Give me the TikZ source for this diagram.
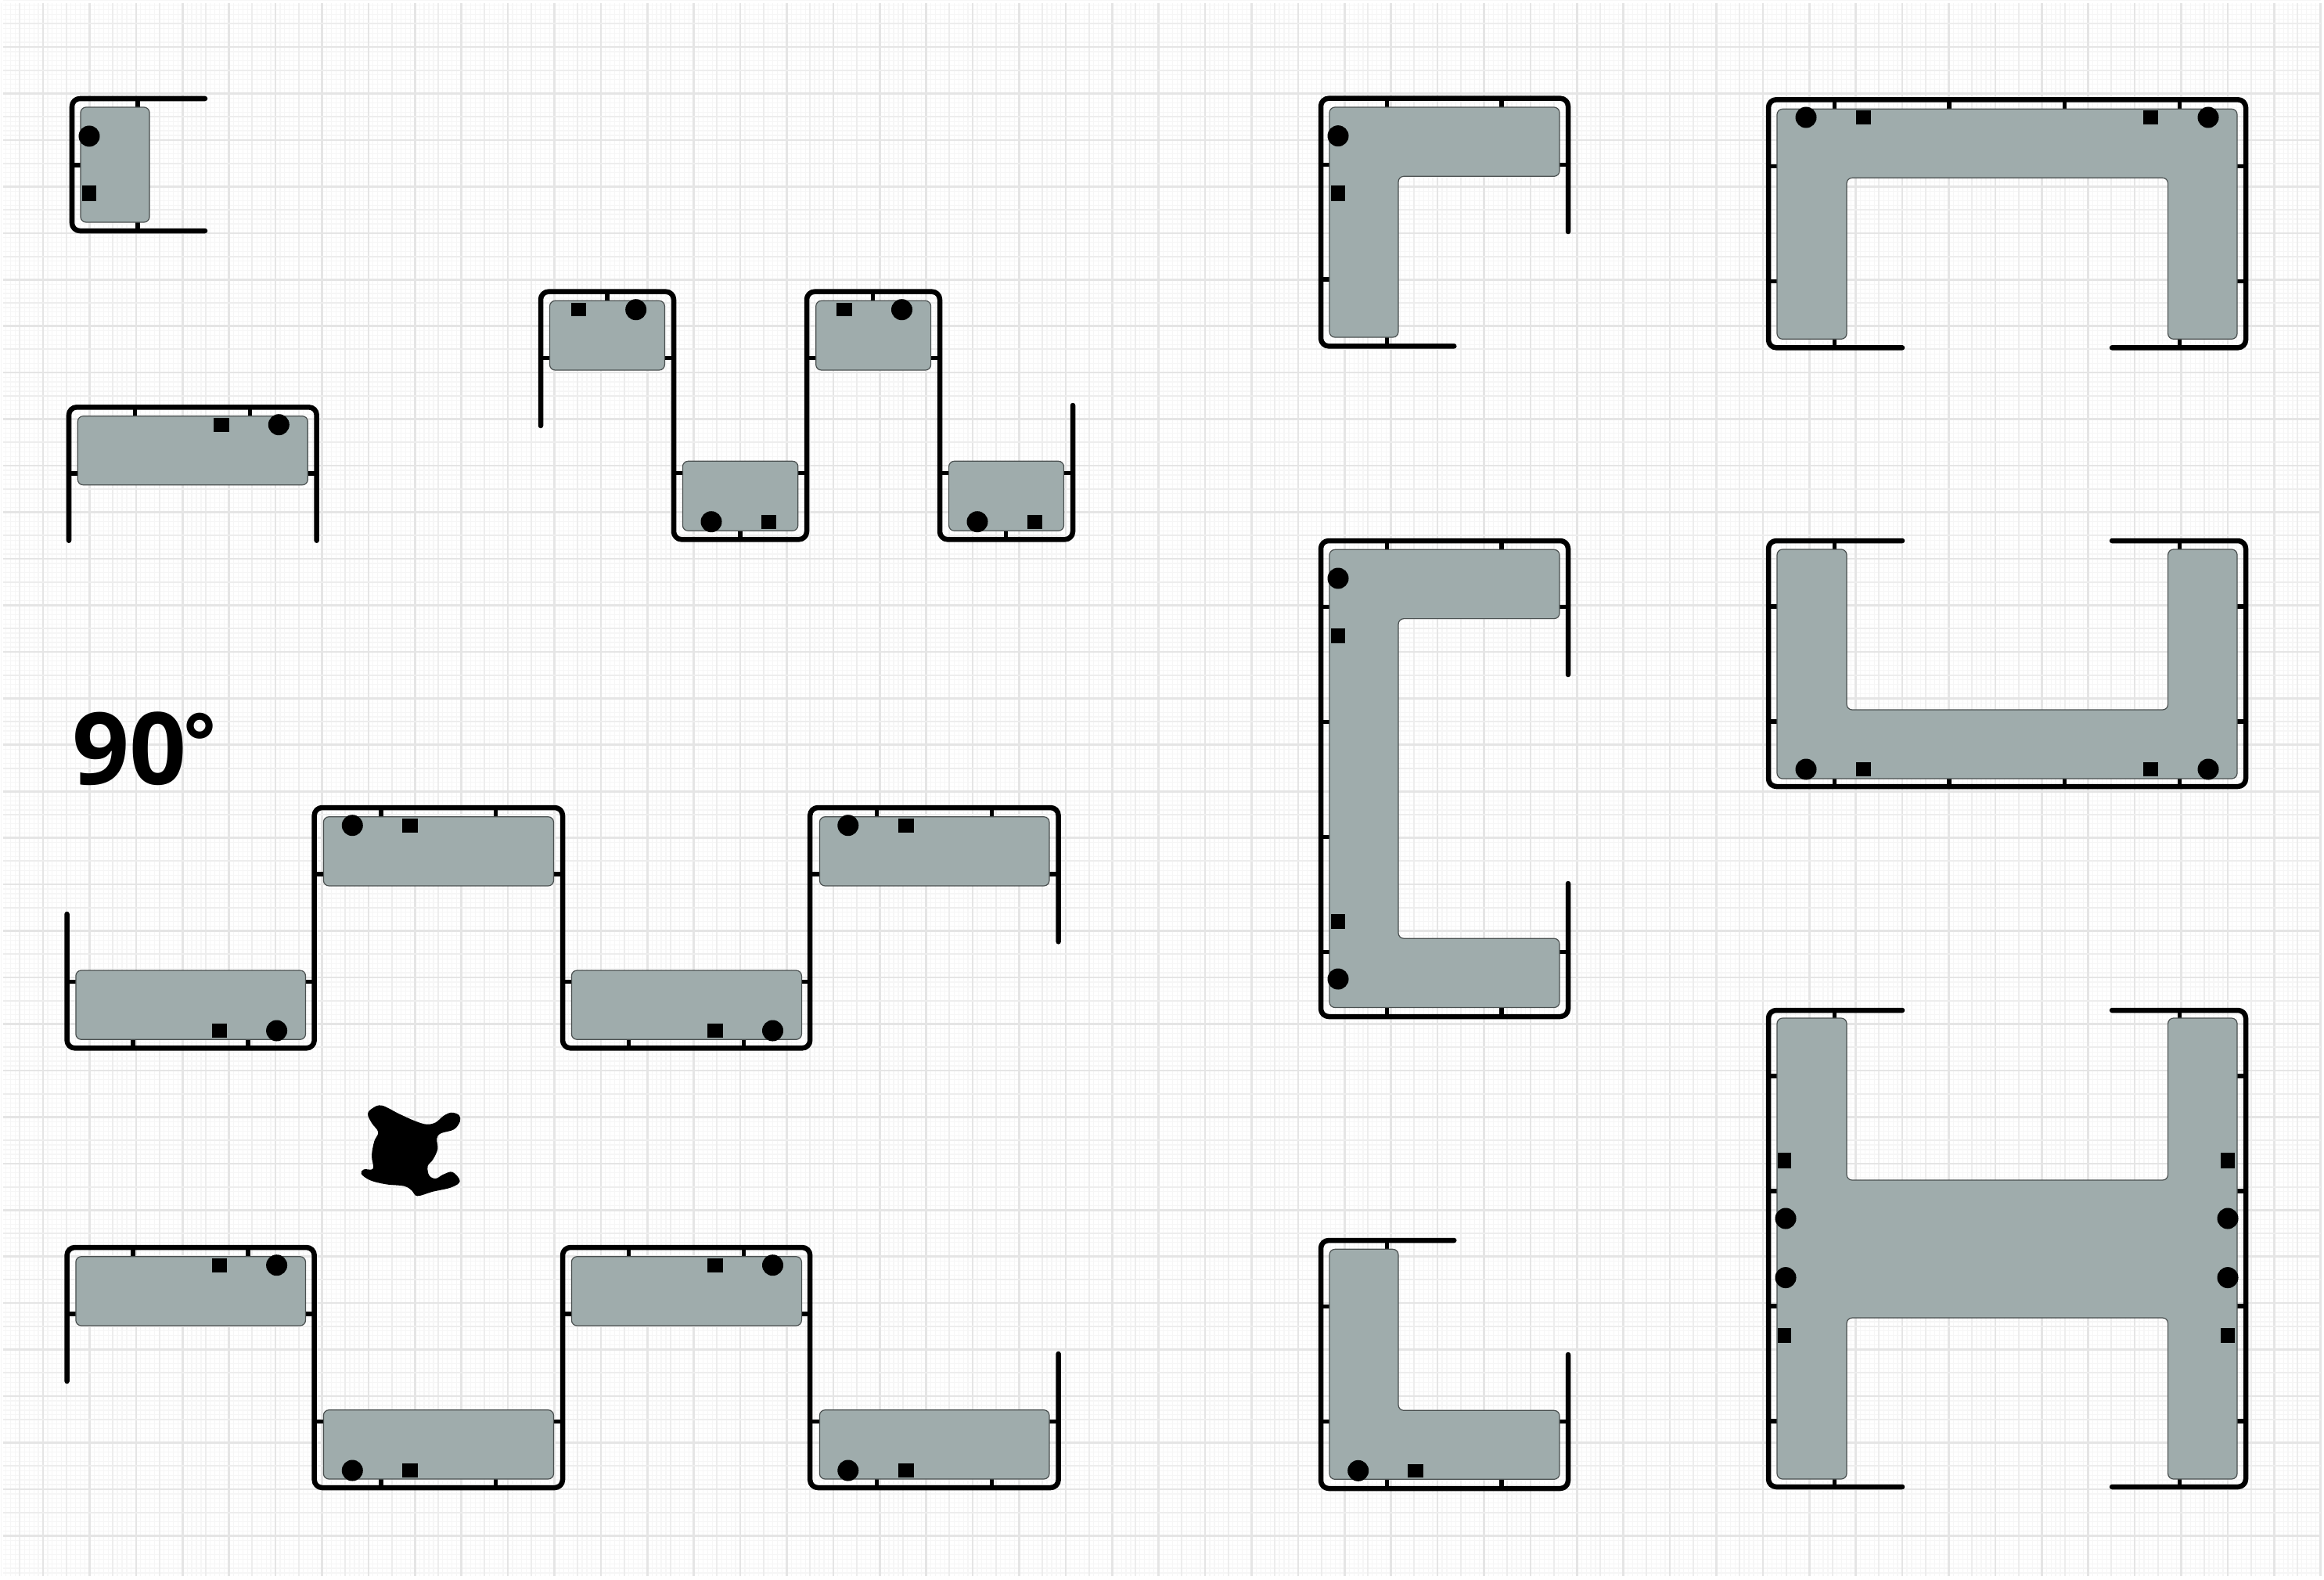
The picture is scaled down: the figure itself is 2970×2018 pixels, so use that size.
\documentclass[tikz,border=0pt]{standalone}
\usepackage{fontspec}
\setsansfont{Open Sans}
\definecolor{concretegray}{HTML}{9FACAC}
\definecolor{concreteline}{HTML}{4A5050}
\tikzset{
    rebar/.style={line width=0.065cm, line cap=round, line join=round, rounded corners=0.1cm},
    rebartick/.style={line width=0.055cm, shorten <=0.012cm},
    concrete/.style={fill=concretegray, draw=concreteline, line width=0.012cm, rounded corners=0.07cm},
    gridfine/.style={draw=black!3.5, line width=0.012cm},
    gridmid/.style={draw=black!7, line width=0.02cm},
    gridmajor/.style={draw=black!10, line width=0.026cm}
}
\begin{document}
\begin{tikzpicture}[x=0.01cm, y=-0.01cm]
    \useasboundingbox (0,0) rectangle (2970,2018);
    % Graph paper
    \foreach \k in {0,...,499}
        \draw[gridfine] (1.54+\k*5.94,4) -- (1.54+\k*5.94,2014);
    \foreach \k in {0,...,338}
        \draw[gridfine] (4,0.55+\k*5.945) -- (2966,0.55+\k*5.945);
    \foreach \k in {0,...,49} {
        \draw[gridmid] (25.3+\k*59.4,4) -- (25.3+\k*59.4,2014);
        \draw[gridmajor] (55+\k*59.4,4) -- (55+\k*59.4,2014);
    }
    \foreach \k in {0,...,32} {
        \draw[gridmid] (4,30.3+\k*59.45) -- (2966,30.3+\k*59.45);
        \draw[gridmajor] (4,60+\k*59.45) -- (2966,60+\k*59.45);
    }
    % Title
    \node[anchor=base west, inner sep=0pt, font=\sffamily\bfseries\fontsize{36.4pt}{36.4pt}\selectfont] (anglelabel) at (92,1002) {90\kern-0.03em\raisebox{5.6pt}{\fontsize{28pt}{28pt}\selectfont °}};
    % Patch
    \fill plot[smooth cycle, tension=0.6] coordinates {(488.3,1412.7) (510,1423.3) (530,1432.3) (545,1436.7) (556.7,1434.3) (566.7,1426) (576.7,1421.7) (586.7,1425) (587.7,1433.3) (580,1443.3) (563.3,1448.3) (558.3,1455) (559.3,1468.3) (553.3,1481.7) (546.7,1490) (548.3,1501.7) (556.7,1506) (566.7,1500.7) (578.3,1497.7) (587.7,1509.3) (576.7,1517.3) (553.3,1522.7) (533.3,1528.3) (526.7,1521.7) (516.7,1515.7) (493.3,1513.3) (473.3,1508.3) (461.7,1500) (465,1494.3) (476.7,1493.3) (475,1476.7) (478.3,1458.3) (483.3,1446.7) (475,1435) (470,1423.3) (476.7,1415.7)};
    % Stirrups
    \draw[rebar] (262,126) -- (92,126) -- (92,295) -- (262,295);
    \draw[rebar] (88,690.7) -- (88,520.3) -- (404.7,520.3) -- (404.7,690.7);
    \draw[rebar] (691,544) -- (691,372.7) -- (861,372.7) -- (861,689.3) -- (1031,689.3) -- (1031,372.7) -- (1201,372.7) -- (1201,689.3) -- (1371,689.3) -- (1371,518);
    \draw[rebar] (85.6,1168) -- (85.6,1339.3) -- (401.7,1339.3) -- (401.7,1032) -- (719,1032) -- (719,1339.3) -- (1035.2,1339.3) -- (1035.2,1032) -- (1352.6,1032) -- (1352.6,1203.3);
    \draw[rebar] (85.6,1765) -- (85.6,1594) -- (401.7,1594) -- (401.7,1901) -- (719,1901) -- (719,1594) -- (1035.2,1594) -- (1035.2,1901) -- (1352.6,1901) -- (1352.6,1730);
    \draw[rebar] (2004,296) -- (2004,125.7) -- (1688,125.7) -- (1688,442.3) -- (1858.3,442.3);
    \draw[rebar] (2004,862) -- (2004,691) -- (1688,691) -- (1688,1299) -- (2004,1299) -- (2004,1129);
    \draw[rebar] (1858.3,1585) -- (1688,1585) -- (1688,1902) -- (2004,1902) -- (2004,1731);
    \draw[rebar] (2431,444.3) -- (2260,444.3) -- (2260,127.3) -- (2870,127.3) -- (2870,444.3) -- (2699,444.3);
    \draw[rebar] (2431,691) -- (2260,691) -- (2260,1005) -- (2870,1005) -- (2870,691) -- (2699,691);
    \draw[rebar] (2431,1291) -- (2260,1291) -- (2260,1900) -- (2431,1900);
    \draw[rebar] (2699,1291) -- (2870,1291) -- (2870,1900) -- (2699,1900);
    % Ties, across the stirrup
    \foreach \x/\a/\b in {176/122/137, 176/299/284, 172.7/516.3/531.7, 319.3/516.3/531.7, 776/368.7/384.3, 1115.7/368.7/384.3, 945.8/693.3/678.3, 1285.6/693.3/678.3, 1772.3/121.7/137, 1919/121.7/137, 1772.3/446.3/431, 1772.3/687/702.3, 1919/687/702.3, 1772.3/1303/1287.5, 1919/1303/1287.5, 1772.3/1581/1596.3, 1772.3/1906/1890.3, 1919/1906/1890.3, 2344.3/448.3/433.3, 2785.4/448.3/433.3, 2344.3/687/702, 2785.4/687/702, 2344.3/1287/1301, 2785.4/1287/1301, 2344.3/1904/1890, 2785.4/1904/1890}
        \draw[rebartick] (\x,\a) -- (\x,\b);
    \foreach \x in {487,633.7,1120.6,1267.6} {
        \draw[rebartick] (\x,1028) -- (\x,1043.7);
        \draw[rebartick] (\x,1905) -- (\x,1890);
    }
    \foreach \x in {170.2,317.2,803.6,950.6} {
        \draw[rebartick] (\x,1343.3) -- (\x,1328.3);
        \draw[rebartick] (\x,1590) -- (\x,1605.7);
    }
    \foreach \x in {2344.3,2491.2,2638.5,2785.4} {
        \draw[rebartick] (\x,123.3) -- (\x,139.3);
        \draw[rebartick] (\x,1009) -- (\x,995);
    }
    \foreach \y/\a/\b in {211/88/103, 605/84/99.3, 605/408.7/393.3, 457.7/687/702.5, 457.7/865/849.4, 457.7/1027/1042.7, 457.7/1205/1189.6, 604.3/857/872.4, 604.3/1035/1019.8, 604.3/1197/1212.6, 604.3/1375/1359.5, 210.3/1684/1699, 210.3/2008/1993, 357/1684/1699, 775.6/2008/1993, 1216.6/2008/1993, 1669.7/1684/1699, 1816.7/1684/1699, 1816.7/2008/1993}
        \draw[rebartick] (\a,\y) -- (\b,\y);
    \foreach \y in {1254.7,1679} \foreach \a/\b in {81.6/96.9, 405.7/390.5, 715/730.4, 1039.2/1024.4}
        \draw[rebartick] (\a,\y) -- (\b,\y);
    \foreach \y in {1117,1816.4} \foreach \a/\b in {397.7/413.4, 723/707.5, 1031.2/1047.4, 1356.6/1341}
        \draw[rebartick] (\a,\y) -- (\b,\y);
    \foreach \y in {775.6,922.6,1069.6,1216.6}
        \draw[rebartick] (1684,\y) -- (1699,\y);
    \foreach \y in {212.3,359.7,775,922,1375,1522,1669,1816} {
        \draw[rebartick] (2256,\y) -- (2271,\y);
        \draw[rebartick] (2874,\y) -- (2859,\y);
    }
    % Concrete bars
    \foreach \xa/\ya/\xb/\yb in {103/137/191/284, 99.3/531.7/393.3/619.7, 702.5/384.3/849.4/473, 872.4/589.3/1019.8/678.3, 1042.7/384.3/1189.6/473, 1212.6/589.3/1359.5/678.3, 96.9/1240/390.5/1328.3, 413.4/1043.7/707.5/1132, 730.4/1240/1024.4/1328.3, 1047.4/1043.7/1341/1132, 96.9/1605.7/390.5/1694, 413.4/1801.7/707.5/1890, 730.4/1605.7/1024.4/1694, 1047.4/1801.7/1341/1890}
        \draw[concrete] (\xa,\ya) rectangle (\xb,\yb);
    % Concrete walls
    \draw[concrete] (1699,137) -- (1993,137) -- (1993,225.3) -- (1787,225.3) -- (1787,431) -- (1699,431) -- cycle;
    \draw[concrete] (1699,702.3) -- (1993,702.3) -- (1993,790.6) -- (1787,790.6) -- (1787,1199.2) -- (1993,1199.2) -- (1993,1287.5) -- (1699,1287.5) -- cycle;
    \draw[concrete] (1699,1596.3) -- (1787,1596.3) -- (1787,1802.3) -- (1993,1802.3) -- (1993,1890.3) -- (1699,1890.3) -- cycle;
    \draw[concrete] (2271,139.3) -- (2859,139.3) -- (2859,433.3) -- (2770.6,433.3) -- (2770.6,227.3) -- (2360,227.3) -- (2360,433.3) -- (2271,433.3) -- cycle;
    \draw[concrete] (2271,702) -- (2360,702) -- (2360,907) -- (2770.6,907) -- (2770.6,702) -- (2859,702) -- (2859,995) -- (2271,995) -- cycle;
    \draw[concrete] (2271,1301) -- (2360,1301) -- (2360,1508) -- (2770.6,1508) -- (2770.6,1301) -- (2859,1301) -- (2859,1890) -- (2770.6,1890) -- (2770.6,1684) -- (2360,1684) -- (2360,1890) -- (2271,1890) -- cycle;
    % Round bars
    \foreach \x/\y in {114/174, 356.3/542.7, 812.7/395.7, 909/666.7, 1152.5/395.7, 1249/666.7, 353.6/1317, 450.3/1054.7, 987.5/1317, 1083.8/1054.7, 353.6/1616.7, 450.3/1879, 987.5/1616.7, 1083.8/1879, 1710/173.7, 1710/739, 1710/1251, 1735.7/1879.3, 2308/150, 2822/150, 2308/983, 2822/983, 2282/1557, 2282/1632.6, 2847/1557, 2847/1632.6}
        \fill (\x,\y) circle (0.135cm);
    % Square bars
    \foreach \x/\y in {283/543, 739.3/395.6, 982.5/667, 1078.8/395.6, 1322.3/667, 280.3/1317.2, 523.8/1054.7, 913.9/1317.2, 1157.8/1054.7, 280.3/1616.7, 523.8/1878.8, 913.9/1616.7, 1157.8/1878.8, 1809/1879.5, 2381.3/150.2, 2748.7/150.2, 2381.3/983, 2748.7/983}
        \fill (\x-9.7,\y-8.8) rectangle (\x+9.7,\y+8.8);
    \foreach \x/\y in {113.8/247, 1710/247, 1710/812.3, 1710/1177.6, 2280.6/1483, 2280.6/1706.6, 2846.7/1483, 2846.7/1706.6}
        \fill (\x-8.8,\y-9.7) rectangle (\x+8.8,\y+9.7);
\end{tikzpicture}
\end{document}
